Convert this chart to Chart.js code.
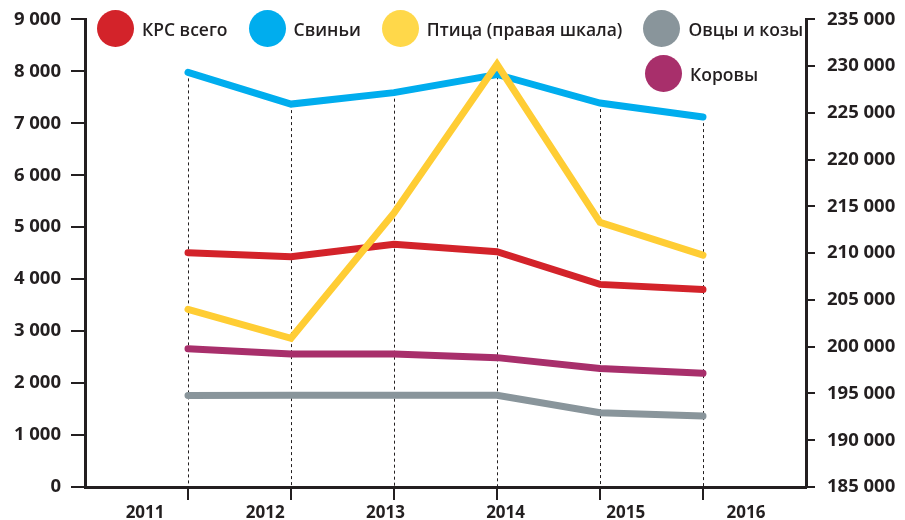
<!DOCTYPE html>
<html>
<head>
<meta charset="utf-8">
<script src="https://cdn.jsdelivr.net/npm/chart.js@4/dist/chart.umd.min.js"></script>
<style>
  html, body { margin: 0; padding: 0; background: #fff; }
  #wrap { position: relative; width: 905px; height: 520px; }
  #legend { position: absolute; left: 97px; top: 10px; font-family: 'Open Sans', sans-serif; font-weight: 600; font-size: 17.5px; color: #231f20; }
  .row { display: flex; align-items: center; height: 37px; margin-bottom: 8px; }
  .item { display: flex; align-items: center; margin-right: 21px; white-space: nowrap; }
  .dot { width: 37px; height: 37px; border-radius: 50%; margin-right: 8px; }
</style>
</head>
<body>
<div id="wrap">
  <canvas id="chart" width="905" height="520"></canvas>
  <div id="legend"></div>
</div>
<script>
// data
var years = ['2011', '2012', '2013', '2014', '2015', '2016'];
var krs = [4510, 4430, 4670, 4530, 3900, 3800];        // КРС всего
var pigs = [7980, 7370, 7590, 7940, 7390, 7120];       // Свиньи
var poultry = [204000, 200900, 214300, 230200, 213300, 209800]; // Птица (правая шкала)
var sheep = [1760, 1765, 1765, 1765, 1430, 1365];      // Овцы и козы
var cows = [2660, 2560, 2560, 2490, 2280, 2190];       // Коровы

var INK = '#231f20';
var FONT = "'Open Sans', sans-serif";

function pts(arr) {
  // years sit on positions 1..6 of a 0..7 axis
  return arr.map(function (v, i) { return {x: i + 1, y: v}; });
}
function fmt(v) {
  return String(v).replace(/\B(?=(\d{3})+(?!\d))/g, ' ');
}
function line(label, arr, color, axis, order) {
  return {
    label: label,
    data: pts(arr),
    yAxisID: axis,
    borderColor: color,
    backgroundColor: color,
    borderWidth: 7,
    borderCapStyle: 'round',
    borderJoinStyle: 'miter',
    pointRadius: 0,
    tension: 0,
    order: order
  };
}

var datasets = [
  line('КРС всего', krs, '#d3232a', 'y', 2),
  line('Свиньи', pigs, '#00adee', 'y', 1),
  line('Птица (правая шкала)', poultry, '#ffcd34', 'y1', 0),
  line('Овцы и козы', sheep, '#89959b', 'y', 4),
  line('Коровы', cows, '#a82f6b', 'y', 3)
];

// dotted drop lines from the highest point of each year down to the axis
var dropLines = {
  id: 'dropLines',
  beforeDatasetsDraw: function (chart) {
    var ctx = chart.ctx, area = chart.chartArea;
    var metas = chart.getSortedVisibleDatasetMetas();
    ctx.save();
    ctx.setLineDash([3, 3]);
    ctx.strokeStyle = INK;
    ctx.lineWidth = 1;
    for (var i = 0; i < years.length; i++) {
      var top = Infinity, x = null;
      metas.forEach(function (m) {
        var p = m.data[i];
        if (p) { top = Math.min(top, p.y); x = p.x; }
      });
      ctx.beginPath();
      ctx.moveTo(Math.round(x) + 0.5, top);
      ctx.lineTo(Math.round(x) + 0.5, area.bottom);
      ctx.stroke();
    }
    ctx.restore();
  }
};

var tickFont = {family: FONT, size: 18.5, weight: '700', lineHeight: 0.8};

new Chart(document.getElementById('chart'), {
  type: 'line',
  data: {datasets: datasets},
  options: {
    responsive: false,
    animation: false,
    layout: {padding: {top: 19, left: 0, right: 0, bottom: 0}},
    plugins: {legend: {display: false}, tooltip: {enabled: false}},
    scales: {
      x: {
        type: 'linear',
        min: 0,
        max: 7,
        weight: 0,
        afterFit: function (s) { s.height = 13; },
        afterBuildTicks: function (s) {
          s.ticks = s.ticks.filter(function (t) { return t.value >= 1 && t.value <= 6; });
        },
        ticks: {display: false, stepSize: 1},
        grid: {drawOnChartArea: false, tickLength: 13, color: INK, lineWidth: 2},
        border: {color: INK, width: 3}
      },
      x2: {
        type: 'category',
        labels: years,
        position: 'bottom',
        offset: true,
        weight: 1,
        afterFit: function (s) { s.height = 20; },
        grid: {display: false},
        border: {display: false},
        ticks: {color: INK, font: {family: FONT, size: 17, weight: '700'}, padding: -5, maxRotation: 0}
      },
      y: {
        position: 'left',
        min: 0,
        max: 9000,
        afterFit: function (s) { s.width = 85; },
        ticks: {stepSize: 1000, color: INK, font: tickFont, padding: 10, callback: fmt},
        grid: {drawOnChartArea: false, tickLength: 14, color: INK, lineWidth: 2},
        border: {color: INK, width: 3}
      },
      y1: {
        position: 'right',
        min: 185000,
        max: 235000,
        afterFit: function (s) { s.width = 99; },
        ticks: {stepSize: 5000, color: INK, font: tickFont, padding: 12, callback: fmt},
        grid: {drawOnChartArea: false, tickLength: 9, color: INK, lineWidth: 2},
        border: {color: INK, width: 3}
      }
    }
  },
  plugins: [dropLines]
});

// legend: first four in a row, the fifth under the fourth
var legend = document.getElementById('legend');
var rows = [[0, 1, 2, 3], [4]];
rows.forEach(function (r, ri) {
  var row = document.createElement('div');
  row.className = 'row';
  if (ri === 1) row.style.marginLeft = '548px';
  r.forEach(function (k) {
    var d = datasets[k];
    var item = document.createElement('div');
    item.className = 'item';
    var dot = document.createElement('span');
    dot.className = 'dot';
    dot.style.background = k === 2 ? '#ffd84a' : d.borderColor;
    var txt = document.createElement('span');
    txt.textContent = d.label;
    item.appendChild(dot);
    item.appendChild(txt);
    row.appendChild(item);
  });
  legend.appendChild(row);
});
</script>
</body>
</html>
